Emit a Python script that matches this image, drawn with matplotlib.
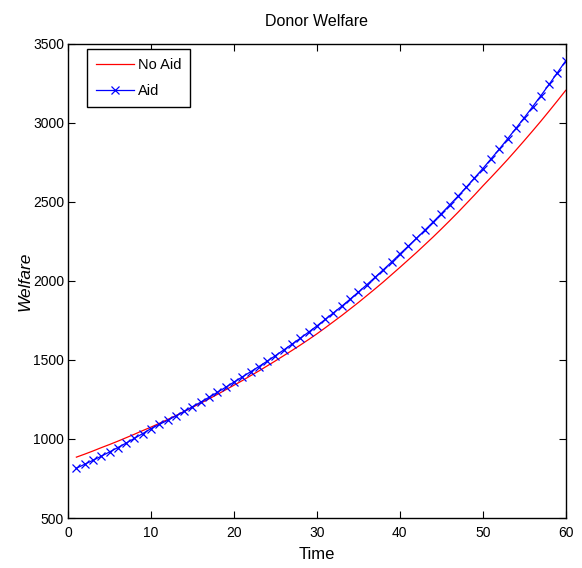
import matplotlib
matplotlib.use("Agg")
import matplotlib.pyplot as plt

# Donor welfare over time, with and without aid
time = list(range(1, 61))

welfare_no_aid = [
    885, 904, 924, 945, 965, 986, 1008, 1030, 1053, 1075,
    1099, 1123, 1148, 1174, 1200, 1227, 1254, 1282, 1311, 1340,
    1369, 1400, 1430, 1462, 1494, 1527, 1560, 1594, 1629, 1665,
    1703, 1742, 1781, 1822, 1863, 1906, 1949, 1993, 2039, 2085,
    2132, 2179, 2228, 2277, 2328, 2380, 2433, 2488, 2543, 2600,
    2655, 2711, 2768, 2827, 2887, 2948, 3010, 3074, 3139, 3205,
]

welfare_aid = [
    815, 840, 865, 891, 918, 946, 974, 1004, 1034, 1066,
    1092, 1118, 1146, 1174, 1204, 1233, 1264, 1295, 1327, 1360,
    1392, 1425, 1458, 1492, 1527, 1563, 1600, 1637, 1676, 1715,
    1756, 1798, 1840, 1884, 1929, 1975, 2022, 2070, 2119, 2170,
    2219, 2269, 2320, 2372, 2425, 2480, 2535, 2592, 2651, 2710,
    2772, 2834, 2899, 2965, 3032, 3101, 3171, 3243, 3317, 3392,
]

xticks = [0, 10, 20, 30, 40, 50, 60]
yticks = [500, 1000, 1500, 2000, 2500, 3000, 3500]

plt.rcParams["font.family"] = ["Liberation Sans", "DejaVu Sans"]

fig = plt.figure(figsize=(5.82, 5.68), dpi=100)
ax = fig.add_axes([0.117, 0.088, 0.855, 0.835])

ax.plot(time, welfare_no_aid, color="red", linewidth=0.9, label="No Aid")
ax.plot(time, welfare_aid, color="blue", linewidth=0.9, marker="x",
        markersize=5.5, markeredgewidth=0.9, label="Aid")

ax.set_xlim(0, 60)
ax.set_ylim(500, 3500)
ax.set_xticks(xticks)
ax.set_yticks(yticks)
ax.tick_params(direction="in", top=True, right=True, length=5,
               width=0.8, labelsize=10)
ax.tick_params(axis="x", pad=6)
ax.tick_params(axis="y", pad=3)
for side in ax.spines.values():
    side.set_linewidth(1.0)

ax.set_title("Donor Welfare", fontsize=11.5, pad=13)
ax.set_xlabel("Time", fontsize=12, labelpad=5)
ax.set_ylabel("Welfare", fontsize=12.5, style="italic")
ax.yaxis.set_label_coords(-0.072, 0.5)

leg = ax.legend(loc="upper left", bbox_to_anchor=(0.038, 0.989),
                borderaxespad=0, fontsize=10.5, fancybox=False, framealpha=1,
                edgecolor="black", handlelength=2.6, borderpad=0.6,
                labelspacing=0.85, handletextpad=0.3)
leg.get_frame().set_linewidth(1.0)

fig.savefig("out.png", dpi=100)
